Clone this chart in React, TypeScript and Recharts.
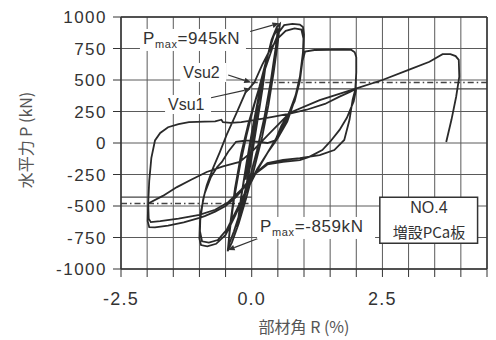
import React from "react";
import {
  CartesianGrid,
  Line,
  LineChart,
  ReferenceArea,
  ReferenceDot,
  ReferenceLine,
  XAxis,
  YAxis,
} from "recharts";

// 部材角 R (%) / 水平力 P (kN) — loading history, cycle by cycle
const smallCyclesR = [
  0, 0.06, 0.12, 0.07, 0, -0.06, -0.12, -0.07, 0,
  0.1, 0.2, 0.27, 0.2, 0.1, 0, -0.1, -0.2, -0.27, -0.2, -0.1, 0,
  0.1, 0.2, 0.28, 0.21, 0.1, 0, -0.1, -0.2, -0.28, -0.2, -0.08, 0.02,
];
const smallCyclesP = [
  0, 150, 300, 120, -40, -160, -290, -110, 40,
  270, 480, 630, 420, 160, -90, -330, -520, -640, -420, -160, 80,
  300, 520, 660, 440, 150, -110, -360, -560, -670, -430, -120, 90,
];

const cycle05R = [
  0.12, 0.25, 0.38, 0.48, 0.54, 0.5, 0.42, 0.32, 0.2, 0.05, -0.1, -0.25, -0.38, -0.46, -0.42, -0.34, -0.22, -0.1, 0.02,
  0.15, 0.3, 0.42, 0.5, 0.46, 0.36, 0.24, 0.1, -0.05, -0.2, -0.34, -0.45, -0.41, -0.32, -0.2, -0.06,
];
const cycle05P = [
  330, 600, 820, 920, 945, 800, 560, 300, 50, -200, -430, -640, -790, -859, -700, -450, -170, 60, 260,
  450, 690, 850, 910, 760, 480, 200, -60, -300, -520, -700, -820, -640, -360, -80, 160,
];

const cycle10R = [
  0.1, 0.25, 0.4, 0.52, 0.62, 0.78, 0.92, 0.98, 1.0, 0.99, 0.94, 0.84, 0.68, 0.5, 0.3, 0.1, -0.12, -0.32, -0.5, -0.68,
  -0.85, -0.97, -1.0, -0.99, -0.93, -0.86, -0.74, -0.61, -0.48, -0.3, -0.12,
  0.05, 0.2, 0.35, 0.5, 0.65, 0.82, 0.95, 0.99, 0.98, 0.92, 0.82, 0.68, 0.5, 0.3, 0.1, -0.1, -0.3, -0.48, -0.65,
  -0.82, -0.95, -0.99, -0.98, -0.9, -0.78, -0.66, -0.57, -0.45, -0.3,
];
const cycle10P = [
  380, 580, 760, 880, 935, 945, 940, 920, 860, 740, 560, 380, 200, 60, -80, -220, -400, -580, -730, -800,
  -820, -810, -760, -630, -450, -335, -200, -72, 64, 230, 400,
  480, 620, 740, 830, 890, 910, 900, 830, 720, 520, 340, 170, 40, -80, -210, -370, -540, -690, -770,
  -790, -780, -700, -560, -400, -270, -190, -150, -70, 10,
];

const cycle20R = [
  -0.1, 0.1, 0.3, 0.45, 0.57, 0.7, 0.82, 0.92, 0.97, 1.02, 1.2, 1.5, 1.75, 1.9, 1.97, 2.0, 2.0, 1.98, 1.93, 1.87,
  1.77, 1.58, 1.3, 0.92, 0.6, 0.3, 0.1, -0.1, -0.3, -0.5, -0.7, -0.9, -1.0, -1.3, -1.6, -1.85, -1.96, -1.99, -1.98,
  -1.96, -1.92, -1.85, -1.75, -1.6, -1.4, -1.2, -0.9, -0.7, -0.58, -0.55, -0.4, -0.2, 0.1, 0.4, 0.75, 1.05, 1.4,
  1.68, 1.88, 2.0,
  1.95, 1.82, 1.68, 1.5, 1.35, 1.1, 0.92, 0.6, 0.3, 0.05, -0.2, -0.45, -0.7, -1.0, -1.4, -1.75, -1.93, -1.97, -1.98,
];
const cycle20P = [
  20, 10, 0, 20, 140, 230, 330, 490, 650, 725, 738, 740, 742, 740, 720, 680, 560, 423, 343, 184,
  24, -56, -96, -120, -135, -160, -230, -330, -430, -500, -545, -580, -595, -630, -655, -670, -668, -620, -480,
  -300, -120, 20, 80, 125, 150, 165, 170, 172, 185, 165, 160, 165, 185, 208, 235, 264, 310,
  368, 405, 430,
  330, 200, 104, 10, -56, -110, -136, -150, -170, -250, -370, -470, -530, -570, -600, -620, -628, -600, -480,
];

const finalPushR = [
  -1.7, -1.43, -1.15, -0.86, -0.55, -0.23, 0.0, 0.35, 0.73, 1.3, 1.93, 2.5, 3.0, 3.4, 3.65, 3.8, 3.9, 3.96, 3.97,
  3.91, 3.82, 3.72,
];
const finalPushP = [
  -420, -350, -290, -230, -185, -150, -70, 80, 240, 340, 423, 500, 580, 645, 705, 705, 690, 660, 527,
  367, 184, 8,
];

const xTicks = [-2.5, -2, -1.5, -1, -0.5, 0, 0.5, 1, 1.5, 2, 2.5, 3, 3.5, 4, 4.5];
const xLabelTicks = [-2.5, 0, 2.5];
const yTicks = [-1000, -750, -500, -250, 0, 250, 500, 750, 1000];

const vsu1 = 430;
const vsu2 = 480;
const pmaxPos = 945;
const pmaxNeg = -859;

const hysteresis = [
  [smallCyclesR, smallCyclesP],
  [cycle05R, cycle05P],
  [cycle10R, cycle10P],
  [cycle20R, cycle20P],
  [finalPushR, finalPushP],
].flatMap(([rs, ps]) => rs.map((r, i) => ({ r, p: ps[i] })));

const LATIN = "'Liberation Sans', Arial, sans-serif";
const CJK = "'Noto Sans CJK JP', 'Liberation Sans', sans-serif";
const INK = "#333";

const XTick = (props: any) => {
  const { x, y, payload } = props;
  if (!xLabelTicks.includes(payload.value)) return null;
  return (
    <text x={x} y={y + 13} textAnchor="middle" fontSize={18} fill={INK} fontFamily={LATIN} letterSpacing={1.2}>
      {payload.value.toFixed(1)}
    </text>
  );
};

const YTick = (props: any) => {
  const { x, y, payload } = props;
  return (
    <text x={x} y={y + 6} textAnchor="end" fontSize={17} fill={INK} fontFamily={LATIN} letterSpacing={1.5}>
      {payload.value}
    </text>
  );
};

const Arrow = (props: any) => {
  const { x1, y1, x2, y2 } = props;
  const a = Math.atan2(y2 - y1, x2 - x1);
  const len = 7;
  const w = 2.8;
  const bx = x2 - len * Math.cos(a);
  const by = y2 - len * Math.sin(a);
  const pts = `${x2},${y2} ${bx - w * Math.sin(a)},${by + w * Math.cos(a)} ${bx + w * Math.sin(a)},${by - w * Math.cos(a)}`;
  return (
    <g>
      <line x1={x1} y1={y1} x2={bx} y2={by} stroke={INK} strokeWidth={1.2} />
      <polygon points={pts} fill={INK} />
    </g>
  );
};

const pmaxText = (value: number) => (props: any) => {
  const { cx, cy } = props;
  return (
    <g>
      <rect x={cx - 3} y={cy - 15} width={value < 0 ? 118 : 106} height={22} fill="#fff" />
      <text x={cx} y={cy} fontSize={17} fill={INK} fontFamily={LATIN} letterSpacing={0.6}>
        P
        <tspan fontSize={11} dy={4}>max</tspan>
        <tspan dy={-4}>={value}kN</tspan>
      </text>
    </g>
  );
};

const plainText = (label: string, bg: boolean, anchor = "start", family = LATIN, size = 16) => (props: any) => {
  const { cx, cy } = props;
  return (
    <g>
      {bg && <rect x={cx - 3} y={cy - 15} width={label.length * 11 + 2} height={19} fill="#fff" />}
      <text x={cx} y={cy} fontSize={size} fill={INK} fontFamily={family} textAnchor={anchor}>
        {label}
      </text>
    </g>
  );
};

const xTitle = (props: any) => {
  const vb = props.viewBox || { x: 121, y: 269, width: 366 };
  return (
    <text x={vb.x + vb.width / 2} y={vb.y + 64} textAnchor="middle" fontSize={16} fill="#555" fontFamily={CJK}>
      部材角 R (%)
    </text>
  );
};

const yTitle = (props: any) => {
  const vb = props.viewBox || { y: 17, height: 252 };
  const cy = vb.y + vb.height / 2 - 3;
  return (
    <text
      x={25}
      y={cy}
      transform={`rotate(-90, 25, ${cy})`}
      textAnchor="middle"
      dominantBaseline="central"
      fontSize={16}
      fill="#555"
      fontFamily={CJK}
    >
      水平力 P (kN)
    </text>
  );
};

export default function App() {
  return (
    <div style={{ position: "absolute", left: 0, top: 0, width: 496, height: 340, background: "#fff" }}>
      <LineChart width={496} height={340} data={hysteresis} margin={{ top: 0, right: 0, bottom: 0, left: 0 }}>
        <CartesianGrid stroke="#5a5a5a" strokeWidth={1} />
        <XAxis
          dataKey="r"
          type="number"
          domain={[-2.5, 4.5]}
          ticks={xTicks}
          interval={0}
          allowDataOverflow
          height={71}
          tickSize={8}
          tickMargin={15}
          axisLine={{ stroke: INK, strokeWidth: 1.5 }}
          tickLine={{ stroke: INK }}
          tick={<XTick />}
          label={xTitle}
        />
        <XAxis
          xAxisId="top"
          orientation="top"
          type="number"
          domain={[-2.5, 4.5]}
          ticks={xTicks}
          interval={0}
          allowDataOverflow
          height={17}
          tickSize={8}
          axisLine={{ stroke: INK, strokeWidth: 1.5 }}
          tickLine={{ stroke: INK }}
          tick={false}
        />
        <YAxis
          type="number"
          domain={[-1000, 1000]}
          ticks={yTicks}
          interval={0}
          allowDataOverflow
          width={121}
          tickSize={8}
          tickMargin={6}
          axisLine={{ stroke: INK, strokeWidth: 1.5 }}
          tickLine={{ stroke: INK }}
          tick={<YTick />}
          label={yTitle}
        />
        <YAxis
          yAxisId="right"
          orientation="right"
          type="number"
          domain={[-1000, 1000]}
          ticks={yTicks}
          interval={0}
          allowDataOverflow
          width={9}
          tickSize={8}
          axisLine={{ stroke: INK, strokeWidth: 1.5 }}
          tickLine={{ stroke: INK }}
          tick={false}
        />

        <ReferenceLine segment={[{ x: 0, y: vsu2 }, { x: 4.5, y: vsu2 }]} stroke="#444" strokeWidth={1.3} strokeDasharray="6 3 1.5 3" />
        <ReferenceLine segment={[{ x: 0, y: vsu1 }, { x: 4.5, y: vsu1 }]} stroke="#444" strokeWidth={1.3} />
        <ReferenceLine segment={[{ x: -2.5, y: -vsu2 }, { x: 0, y: -vsu2 }]} stroke="#444" strokeWidth={1.3} strokeDasharray="6 3 1.5 3" />
        <ReferenceLine segment={[{ x: -2.5, y: -vsu1 }, { x: 0, y: -vsu1 }]} stroke="#444" strokeWidth={1.3} />

        <Line
          dataKey="p"
          type="linear"
          stroke="#2a2a2a"
          strokeWidth={1.8}
          dot={false}
          isAnimationActive={false}
        />

        <ReferenceArea x1={2.45} x2={4.32} y1={-795} y2={-430} fill="#fff" fillOpacity={1} stroke={INK} strokeWidth={1.5} />
        <ReferenceDot x={3.39} y={-556} r={0} shape={plainText("NO.4", false, "middle")} />
        <ReferenceDot x={3.39} y={-754} r={0} shape={plainText("増設PCa板", false, "middle", CJK, 15)} />

        <ReferenceDot x={-2.08} y={786} r={0} shape={pmaxText(pmaxPos)} />
        <ReferenceLine segment={[{ x: -0.03, y: 885 }, { x: 0.53, y: 950 }]} shape={<Arrow />} />
        <ReferenceDot x={0.16} y={-706} r={0} shape={pmaxText(pmaxNeg)} />
        <ReferenceLine segment={[{ x: 0.12, y: -758 }, { x: -0.46, y: -850 }]} shape={<Arrow />} />

        <ReferenceDot x={-1.31} y={516} r={0} shape={plainText("Vsu2", true)} />
        <ReferenceLine segment={[{ x: -0.45, y: 540 }, { x: -0.01, y: vsu2 }]} shape={<Arrow />} />
        <ReferenceDot x={-1.6} y={262} r={0} shape={plainText("Vsu1", true)} />
        <ReferenceLine segment={[{ x: -0.8, y: 357 }, { x: -0.01, y: vsu1 }]} shape={<Arrow />} />
      </LineChart>
    </div>
  );
}
